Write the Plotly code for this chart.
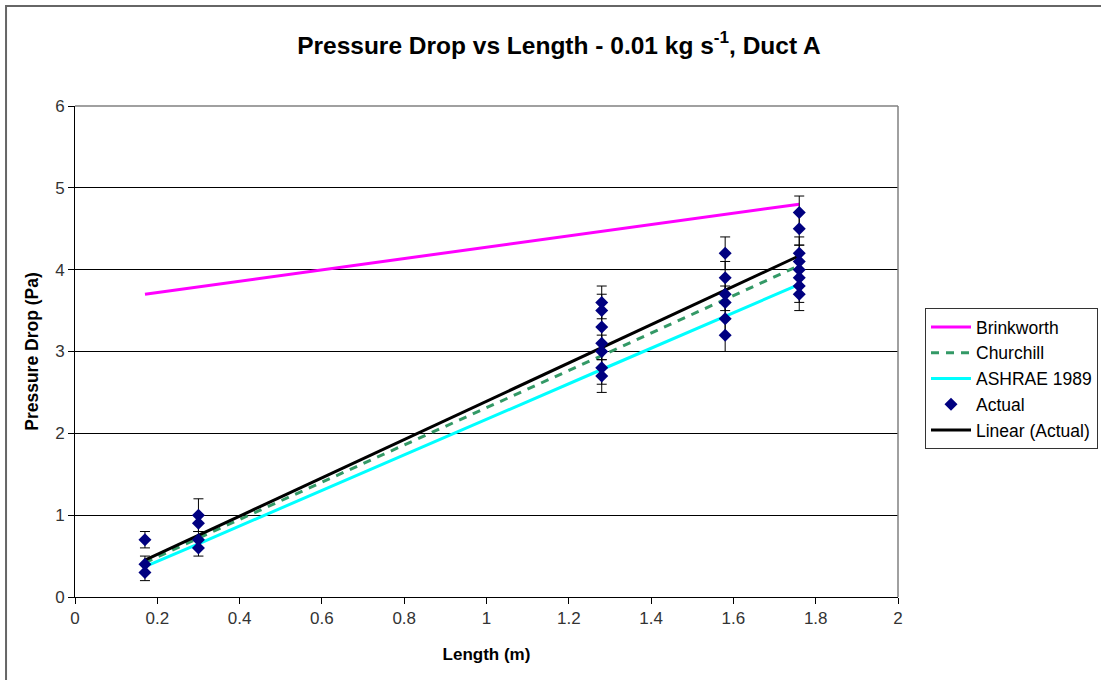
import plotly.graph_objects as go

# ---- data ----
model_x = [0.17, 0.30, 1.28, 1.58, 1.76]
brinkworth = [3.70, 3.79, 4.47, 4.68, 4.80]
churchill = [0.42, 0.72, 2.95, 3.64, 4.05]
ashrae = [0.37, 0.65, 2.78, 3.43, 3.82]

actual_x = [0.17, 0.17, 0.17,
            0.30, 0.30, 0.30, 0.30,
            1.28, 1.28, 1.28, 1.28, 1.28, 1.28, 1.28,
            1.58, 1.58, 1.58, 1.58, 1.58, 1.58,
            1.76, 1.76, 1.76, 1.76, 1.76, 1.76, 1.76, 1.76]
actual_y = [0.7, 0.4, 0.3,
            1.0, 0.9, 0.7, 0.6,
            3.6, 3.5, 3.3, 3.1, 3.0, 2.8, 2.7,
            4.2, 3.9, 3.7, 3.6, 3.4, 3.2,
            4.7, 4.5, 4.2, 4.1, 4.0, 3.9, 3.8, 3.7]
actual_err = [0.1, 0.1, 0.1,
              0.2, 0.1, 0.1, 0.1,
              0.2, 0.2, 0.2, 0.2, 0.2, 0.2, 0.2,
              0.2, 0.2, 0.2, 0.2, 0.2, 0.2,
              0.2, 0.2, 0.2, 0.2, 0.2, 0.2, 0.2, 0.2]

# linear trendline (Actual)
trend_x = [0.17, 1.76]
trend_y = [0.45, 4.17]

x_ticks = [0, 0.2, 0.4, 0.6, 0.8, 1, 1.2, 1.4, 1.6, 1.8, 2]
y_ticks = [0, 1, 2, 3, 4, 5, 6]

FONT = "Liberation Sans, Arial, sans-serif"

fig = go.Figure()
fig.add_trace(go.Scatter(x=model_x, y=brinkworth, mode="lines", name="Brinkworth",
                         line=dict(color="#FF00FF", width=3), legendrank=1))
fig.add_trace(go.Scatter(x=model_x, y=churchill, mode="lines", name="Churchill",
                         line=dict(color="#339966", width=3, dash="8px,7px"), legendrank=2))
fig.add_trace(go.Scatter(x=model_x, y=ashrae, mode="lines", name="ASHRAE 1989",
                         line=dict(color="#00FFFF", width=3), legendrank=3))
fig.add_trace(go.Scatter(x=trend_x, y=trend_y, mode="lines", name="Linear (Actual)",
                         line=dict(color="#000000", width=3), legendrank=5))
fig.add_trace(go.Scatter(x=actual_x, y=actual_y, mode="markers", name="Actual",
                         marker=dict(symbol="diamond", size=10, color="#000080"),
                         error_y=dict(type="data", array=actual_err, color="#000000",
                                      thickness=1, width=5),
                         legendrank=4))

# plot-area top/right border (gray) and outer chart-area border
fig.add_shape(type="line", xref="paper", yref="paper", x0=0, x1=1, y0=1, y1=1,
              line=dict(color="#808080", width=1.5))
fig.add_shape(type="line", xref="paper", yref="paper", x0=1, x1=1, y0=0, y1=1,
              line=dict(color="#808080", width=1.5))
fig.add_shape(type="rect", xref="paper", yref="paper", x0=-0.0838, x1=1.4, y0=-0.3, y1=1.2037,
              line=dict(color="#666666", width=2))

fig.update_layout(
    width=1101, height=680,
    margin=dict(l=75, r=203, t=106, b=83, autoexpand=False),
    paper_bgcolor="white", plot_bgcolor="white",
    font=dict(family=FONT, color="#000000"),
    title=dict(text="<b>Pressure Drop vs Length - 0.01 kg s<sup>-1</sup>, Duct A</b>",
               x=0.588, xref="paper", xanchor="center", y=1 - 45 / 680, yanchor="middle",
               font=dict(size=24.5, family=FONT, color="#000000")),
    xaxis=dict(range=[0, 2], tickvals=x_ticks, ticktext=[f"{v:g}" for v in x_ticks],
               showgrid=False, zeroline=False, showline=True, linecolor="#000000", linewidth=1,
               ticks="outside", ticklen=6, tickcolor="#000000",
               tickfont=dict(size=17, color="#333333"),
               title=dict(text="<b>Length (m)</b>", font=dict(size=17), standoff=20)),
    yaxis=dict(range=[0, 6], tickvals=y_ticks, showgrid=True, gridcolor="#000000", gridwidth=1,
               zeroline=False, showline=True, linecolor="#000000", linewidth=1,
               ticks="outside", ticklen=6, tickcolor="#000000",
               tickfont=dict(size=17, color="#333333"),
               title=dict(text="<b>Pressure Drop (Pa)</b>", font=dict(size=17.5), standoff=12)),
    legend=dict(xref="container", yref="container", x=925 / 1101, y=1 - 308 / 680,
                xanchor="left", yanchor="top",
                bordercolor="#333333", borderwidth=1, bgcolor="white",
                font=dict(size=17.5, family=FONT, color="#000000"),
                itemwidth=40, tracegroupgap=0),
    showlegend=True,
)

fig.write_html("out.html")
